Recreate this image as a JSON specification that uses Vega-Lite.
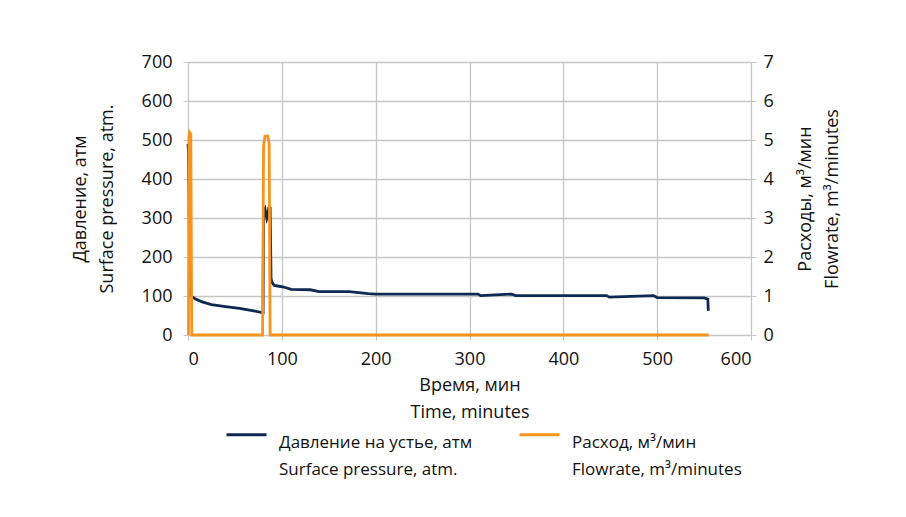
{
  "$schema": "https://vega.github.io/schema/vega-lite/v6.json",
  "width": 563,
  "height": 273,
  "autosize": {"type": "none"},
  "padding": {"left": 188, "top": 62, "right": 155, "bottom": 182},
  "background": "white",
  "config": {
    "font": "Open Sans",
    "view": {"stroke": null},
    "style": {"guide-label": {"lineHeight": 27}},
    "axis": {
      "labelFont": "Open Sans",
      "titleFont": "Open Sans",
      "labelFontSize": 18,
      "titleFontSize": 18,
      "labelColor": "#111111",
      "titleColor": "#111111",
      "titleFontWeight": "normal",
      "gridColor": "#c6c6c6",
      "gridWidth": 1.3,
      "domainColor": "#c6c6c6",
      "tickColor": "#c6c6c6",
      "tickSize": 5,
      "titleLineHeight": 27
    },
    "legend": {
      "labelFont": "Open Sans",
      "labelFontSize": 17,
      "labelColor": "#111111"
    }
  },
  "datasets": {
    "pressure": [
      {"t": 0, "p": 490, "s": "Давление на устье, атм|Surface pressure, atm."},
      {"t": 0.5, "p": 470, "s": "Давление на устье, атм|Surface pressure, atm."},
      {"t": 1.5, "p": 250, "s": "Давление на устье, атм|Surface pressure, atm."},
      {"t": 2.5, "p": 110, "s": "Давление на устье, атм|Surface pressure, atm."},
      {"t": 4, "p": 99, "s": "Давление на устье, атм|Surface pressure, atm."},
      {"t": 8, "p": 92, "s": "Давление на устье, атм|Surface pressure, atm."},
      {"t": 15, "p": 85, "s": "Давление на устье, атм|Surface pressure, atm."},
      {"t": 25, "p": 78, "s": "Давление на устье, атм|Surface pressure, atm."},
      {"t": 40, "p": 73, "s": "Давление на устье, атм|Surface pressure, atm."},
      {"t": 55, "p": 68, "s": "Давление на устье, атм|Surface pressure, atm."},
      {"t": 70, "p": 62, "s": "Давление на устье, атм|Surface pressure, atm."},
      {"t": 80, "p": 57, "s": "Давление на устье, атм|Surface pressure, atm."},
      {"t": 80.5, "p": 320, "s": "Давление на устье, атм|Surface pressure, atm."},
      {"t": 82, "p": 325, "s": "Давление на устье, атм|Surface pressure, atm."},
      {"t": 83, "p": 310, "s": "Давление на устье, атм|Surface pressure, atm."},
      {"t": 84, "p": 298, "s": "Давление на устье, атм|Surface pressure, atm."},
      {"t": 85, "p": 305, "s": "Давление на устье, атм|Surface pressure, atm."},
      {"t": 86, "p": 325, "s": "Давление на устье, атм|Surface pressure, atm."},
      {"t": 87.5, "p": 325, "s": "Давление на устье, атм|Surface pressure, atm."},
      {"t": 88.5, "p": 145, "s": "Давление на устье, атм|Surface pressure, atm."},
      {"t": 89.5, "p": 135, "s": "Давление на устье, атм|Surface pressure, atm."},
      {"t": 92, "p": 127, "s": "Давление на устье, атм|Surface pressure, atm."},
      {"t": 97, "p": 125, "s": "Давление на устье, атм|Surface pressure, atm."},
      {"t": 102, "p": 123, "s": "Давление на устье, атм|Surface pressure, atm."},
      {"t": 110, "p": 117, "s": "Давление на устье, атм|Surface pressure, atm."},
      {"t": 130, "p": 116, "s": "Давление на устье, атм|Surface pressure, atm."},
      {"t": 140, "p": 111, "s": "Давление на устье, атм|Surface pressure, atm."},
      {"t": 172, "p": 111, "s": "Давление на устье, атм|Surface pressure, atm."},
      {"t": 192, "p": 106, "s": "Давление на устье, атм|Surface pressure, atm."},
      {"t": 200, "p": 105, "s": "Давление на устье, атм|Surface pressure, atm."},
      {"t": 309, "p": 105, "s": "Давление на устье, атм|Surface pressure, atm."},
      {"t": 312, "p": 101, "s": "Давление на устье, атм|Surface pressure, atm."},
      {"t": 345, "p": 105, "s": "Давление на устье, атм|Surface pressure, atm."},
      {"t": 349, "p": 101, "s": "Давление на устье, атм|Surface pressure, atm."},
      {"t": 446, "p": 101, "s": "Давление на устье, атм|Surface pressure, atm."},
      {"t": 449, "p": 97, "s": "Давление на устье, атм|Surface pressure, atm."},
      {"t": 496, "p": 101, "s": "Давление на устье, атм|Surface pressure, atm."},
      {"t": 500, "p": 96, "s": "Давление на устье, атм|Surface pressure, atm."},
      {"t": 550, "p": 95, "s": "Давление на устье, атм|Surface pressure, atm."},
      {"t": 554, "p": 92, "s": "Давление на устье, атм|Surface pressure, atm."},
      {"t": 554.5, "p": 62, "s": "Давление на устье, атм|Surface pressure, atm."}
    ],
    "flow": [
      {"t": 0.5, "q": 0, "s": "Расход, м³/мин|Flowrate, m³/minutes"},
      {"t": 1, "q": 5.05, "s": "Расход, м³/мин|Flowrate, m³/minutes"},
      {"t": 1.6, "q": 5.2, "s": "Расход, м³/мин|Flowrate, m³/minutes"},
      {"t": 3, "q": 5.15, "s": "Расход, м³/мин|Flowrate, m³/minutes"},
      {"t": 4, "q": 0, "s": "Расход, м³/мин|Flowrate, m³/minutes"},
      {"t": 79.5, "q": 0, "s": "Расход, м³/мин|Flowrate, m³/minutes"},
      {"t": 80.5, "q": 4.85, "s": "Расход, м³/мин|Flowrate, m³/minutes"},
      {"t": 82, "q": 5.1, "s": "Расход, м³/мин|Flowrate, m³/minutes"},
      {"t": 85, "q": 5.1, "s": "Расход, м³/мин|Flowrate, m³/minutes"},
      {"t": 86.5, "q": 4.9, "s": "Расход, м³/мин|Flowrate, m³/minutes"},
      {"t": 87.5, "q": 0, "s": "Расход, м³/мин|Flowrate, m³/minutes"},
      {"t": 555, "q": 0, "s": "Расход, м³/мин|Flowrate, m³/minutes"}
    ]
  },
  "layer": [
    {
      "data": {"name": "pressure"},
      "mark": {"type": "line", "strokeWidth": 2.8, "interpolate": "linear"},
      "encoding": {
        "x": {
          "field": "t", "type": "quantitative",
          "scale": {"domain": [0, 600], "nice": false},
          "axis": {"values": [0, 100, 200, 300, 400, 500, 600], "title": ["Время, мин", "Time, minutes"], "titlePadding": 8, "labelPadding": 10}
        },
        "y": {
          "field": "p", "type": "quantitative",
          "scale": {"domain": [0, 700], "nice": false},
          "axis": {"values": [0, 100, 200, 300, 400, 500, 600, 700], "title": ["Давление, атм", "Surface pressure, atm."], "titlePadding": 25, "labelPadding": 11}
        },
        "color": {
          "field": "s", "type": "nominal",
          "scale": {"domain": ["Давление на устье, атм|Surface pressure, atm.", "Расход, м³/мин|Flowrate, m³/minutes"], "range": ["#0f2a52", "#f7941d"]},
          "legend": {
            "title": null, "orient": "none", "legendX": 37, "legendY": 351, "direction": "horizontal",
            "symbolType": "stroke", "symbolSize": 1600, "symbolStrokeWidth": 2.8,
            "labelExpr": "split(datum.label, '|')", "labelBaseline": "top",
            "labelLimit": 400, "columnPadding": 40, "labelOffset": 11
          }
        }
      }
    },
    {
      "data": {"name": "flow"},
      "mark": {"type": "line", "strokeWidth": 2.8, "interpolate": "linear"},
      "encoding": {
        "x": {"field": "t", "type": "quantitative"},
        "y": {
          "field": "q", "type": "quantitative",
          "scale": {"domain": [0, 7], "nice": false},
          "axis": {"orient": "right", "grid": false, "values": [0, 1, 2, 3, 4, 5, 6, 7], "title": ["Расходы, м³/мин", "Flowrate, m³/minutes"], "titleAngle": 270, "titlePadding": 14, "labelPadding": 7}
        },
        "color": {"field": "s", "type": "nominal"}
      }
    }
  ],
  "resolve": {"scale": {"y": "independent"}}
}
